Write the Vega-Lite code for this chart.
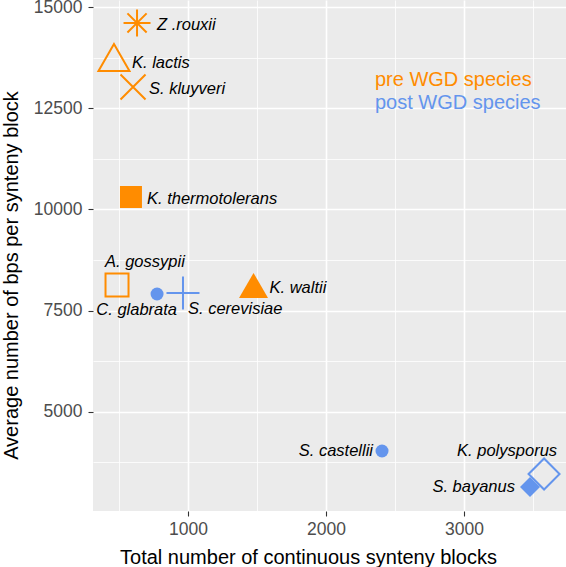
{
  "$schema": "https://vega.github.io/schema/vega-lite/v6.json",
  "width": 473,
  "height": 511,
  "autosize": {"type": "none"},
  "padding": {"left": 93, "top": 0, "right": 0, "bottom": 56},
  "background": "white",
  "view": {"fill": "#EBEBEB", "stroke": null},
  "config": {
    "font": "Liberation Sans",
    "axis": {
      "domain": false,
      "gridColor": "white",
      "tickColor": "#333333",
      "tickWidth": 1.1,
      "tickSize": 5,
      "labelColor": "#4D4D4D",
      "labelFont": "Liberation Sans",
      "labelFontSize": 17.5,
      "titleFont": "Liberation Sans",
      "titleFontSize": 20,
      "titleFontWeight": "normal",
      "titleColor": "#000000",
      "labelOverlap": false,
      "labelFlush": false
    }
  },
  "data": {
    "values": [
      {"species": "Z .rouxii", "group": "pre WGD species", "blocks": 631, "bps": 14605},
      {"species": "K. lactis", "group": "pre WGD species", "blocks": 464, "bps": 13753},
      {"species": "S. kluyveri", "group": "pre WGD species", "blocks": 602, "bps": 13024},
      {"species": "K. thermotolerans", "group": "pre WGD species", "blocks": 587, "bps": 10307},
      {"species": "A. gossypii", "group": "pre WGD species", "blocks": 486, "bps": 8133},
      {"species": "C. glabrata", "group": "post WGD species", "blocks": 776, "bps": 7910},
      {"species": "S. cerevisiae", "group": "post WGD species", "blocks": 964, "bps": 7935},
      {"species": "K. waltii", "group": "pre WGD species", "blocks": 1475, "bps": 8120},
      {"species": "S. castellii", "group": "post WGD species", "blocks": 2406, "bps": 4032},
      {"species": "K. polysporus", "group": "post WGD species", "blocks": 3580, "bps": 3464},
      {"species": "S. bayanus", "group": "post WGD species", "blocks": 3478, "bps": 3143}
    ]
  },
  "encoding": {
    "x": {
      "field": "blocks",
      "type": "quantitative",
      "title": "Total number of continuous synteny blocks",
      "scale": {"domain": [312, 3739], "nice": false, "zero": false},
      "axis": {
        "values": [500, 1000, 1500, 2000, 2500, 3000, 3500],
        "labelExpr": "datum.value % 1000 === 0 ? format(datum.value, 'd') : ''",
        "labelPadding": 4,
        "gridWidth": {"condition": {"test": "datum.value % 1000 === 0", "value": 1.6}, "value": 0.8},
        "tickOpacity": {"condition": {"test": "datum.value % 1000 === 0", "value": 1}, "value": 0},
        "titleX": 215,
        "titleY": 52,
        "titleAlign": "center",
        "titleAnchor": null,
        "titleBaseline": "alphabetic"
      }
    },
    "y": {
      "field": "bps",
      "type": "quantitative",
      "title": "Average number of bps per synteny block",
      "scale": {"domain": [2550, 15173], "nice": false, "zero": false},
      "axis": {
        "values": [3750, 5000, 6250, 7500, 8750, 10000, 11250, 12500, 13750, 15000],
        "labelExpr": "datum.value % 2500 === 0 ? format(datum.value, 'd') : ''",
        "labelPadding": 6,
        "gridWidth": {"condition": {"test": "datum.value % 2500 === 0", "value": 1.6}, "value": 0.8},
        "tickOpacity": {"condition": {"test": "datum.value % 2500 === 0", "value": 1}, "value": 0},
        "titleX": -76,
        "titleY": 275,
        "titleAlign": "center",
        "titleAngle": -90,
        "titleBaseline": "alphabetic"
      }
    },
    "color": {"field": "group", "type": "nominal", "scale": {"domain": ["pre WGD species", "post WGD species"], "range": ["#FF8C00", "#6495ED"]}, "legend": null}
  },
  "layer": [
    {
      "transform": [{"filter": {"field": "species", "oneOf": ["Z .rouxii", "K. lactis", "S. kluyveri", "A. gossypii", "S. cerevisiae", "K. polysporus"]}}],
      "mark": {"type": "point", "filled": false, "strokeWidth": 2, "opacity": 1},
      "encoding": {
        "shape": {"field": "species", "type": "nominal", "legend": null, "scale": {"domain": ["Z .rouxii", "K. lactis", "S. kluyveri", "K. thermotolerans", "A. gossypii", "C. glabrata", "S. cerevisiae", "K. waltii", "S. castellii", "K. polysporus", "S. bayanus"], "range": ["M-1,0L1,0M0,-1L0,1M-0.71,-0.71L0.71,0.71M-0.71,0.71L0.71,-0.71", "triangle-up", "M-1,-1L1,1M-1,1L1,-1", "square", "square", "circle", "M-1,0L1,0M0,-1L0,1", "triangle-up", "circle", "diamond", "diamond"]}},
        "size": {"field": "species", "type": "nominal", "legend": null, "scale": {"type": "ordinal", "domain": ["Z .rouxii", "K. lactis", "S. kluyveri", "K. thermotolerans", "A. gossypii", "C. glabrata", "S. cerevisiae", "K. waltii", "S. castellii", "K. polysporus", "S. bayanus"], "range": [729, 961, 625, 484, 529, 169, 1089, 841, 169, 961, 400]}}
      }
    },
    {
      "transform": [{"filter": {"field": "species", "oneOf": ["K. thermotolerans", "C. glabrata", "K. waltii", "S. castellii", "S. bayanus"]}}],
      "mark": {"type": "point", "filled": true, "opacity": 1},
      "encoding": {
        "shape": {"field": "species", "type": "nominal", "legend": null, "scale": {"domain": ["Z .rouxii", "K. lactis", "S. kluyveri", "K. thermotolerans", "A. gossypii", "C. glabrata", "S. cerevisiae", "K. waltii", "S. castellii", "K. polysporus", "S. bayanus"], "range": ["M-1,0L1,0M0,-1L0,1M-0.71,-0.71L0.71,0.71M-0.71,0.71L0.71,-0.71", "triangle-up", "M-1,-1L1,1M-1,1L1,-1", "square", "square", "circle", "M-1,0L1,0M0,-1L0,1", "triangle-up", "circle", "diamond", "diamond"]}},
        "size": {"field": "species", "type": "nominal", "legend": null, "scale": {"type": "ordinal", "domain": ["Z .rouxii", "K. lactis", "S. kluyveri", "K. thermotolerans", "A. gossypii", "C. glabrata", "S. cerevisiae", "K. waltii", "S. castellii", "K. polysporus", "S. bayanus"], "range": [729, 961, 625, 484, 529, 169, 1089, 841, 169, 961, 400]}}
      }
    },
    {
      "transform": [{"filter": {"field": "species", "equal": "Z .rouxii"}}],
      "mark": {"type": "text", "align": "left", "baseline": "middle", "dx": 20, "dy": 2.5, "fontSize": 16.5, "fontStyle": "italic", "color": "#000000"},
      "encoding": {"text": {"field": "species"}, "color": {"value": "#000000"}}
    },
    {
      "transform": [{"filter": {"field": "species", "equal": "K. lactis"}}],
      "mark": {"type": "text", "align": "left", "baseline": "middle", "dx": 18, "dy": 6, "fontSize": 16.5, "fontStyle": "italic"},
      "encoding": {"text": {"field": "species"}, "color": {"value": "#000000"}}
    },
    {
      "transform": [{"filter": {"field": "species", "oneOf": ["S. kluyveri", "K. thermotolerans", "K. waltii"]}}],
      "mark": {"type": "text", "align": "left", "baseline": "middle", "dx": 16, "dy": 2, "fontSize": 16.5, "fontStyle": "italic"},
      "encoding": {"text": {"field": "species"}, "color": {"value": "#000000"}}
    },
    {
      "transform": [{"filter": {"field": "species", "equal": "A. gossypii"}}],
      "mark": {"type": "text", "align": "left", "baseline": "middle", "dx": -12, "dy": -23, "fontSize": 16.5, "fontStyle": "italic"},
      "encoding": {"text": {"field": "species"}, "color": {"value": "#000000"}}
    },
    {
      "transform": [{"filter": {"field": "species", "equal": "C. glabrata"}}],
      "mark": {"type": "text", "align": "right", "baseline": "middle", "dx": 20, "dy": 16, "fontSize": 16.5, "fontStyle": "italic"},
      "encoding": {"text": {"field": "species"}, "color": {"value": "#000000"}}
    },
    {
      "transform": [{"filter": {"field": "species", "equal": "S. cerevisiae"}}],
      "mark": {"type": "text", "align": "left", "baseline": "middle", "dx": 5, "dy": 15.5, "fontSize": 16.5, "fontStyle": "italic"},
      "encoding": {"text": {"field": "species"}, "color": {"value": "#000000"}}
    },
    {
      "transform": [{"filter": {"field": "species", "equal": "S. castellii"}}],
      "mark": {"type": "text", "align": "right", "baseline": "middle", "dx": -9, "dy": 0, "fontSize": 16.5, "fontStyle": "italic"},
      "encoding": {"text": {"field": "species"}, "color": {"value": "#000000"}}
    },
    {
      "transform": [{"filter": {"field": "species", "equal": "S. bayanus"}}],
      "mark": {"type": "text", "align": "right", "baseline": "middle", "dx": -15, "dy": 0.5, "fontSize": 16.5, "fontStyle": "italic"},
      "encoding": {"text": {"field": "species"}, "color": {"value": "#000000"}}
    },
    {
      "transform": [{"filter": {"field": "species", "equal": "K. polysporus"}}],
      "mark": {"type": "text", "align": "right", "baseline": "middle", "dx": 13, "dy": -23, "fontSize": 16.5, "fontStyle": "italic"},
      "encoding": {"text": {"field": "species"}, "color": {"value": "#000000"}}
    },
    {
      "data": {
        "values": [
          {"label": "pre WGD species", "group": "pre WGD species", "blocks": 2355, "bps": 13204},
          {"label": "post WGD species", "group": "post WGD species", "blocks": 2355, "bps": 12636}
        ]
      },
      "mark": {"type": "text", "align": "left", "baseline": "middle", "fontSize": 20},
      "encoding": {
        "text": {"field": "label"}
      }
    }
  ]
}
